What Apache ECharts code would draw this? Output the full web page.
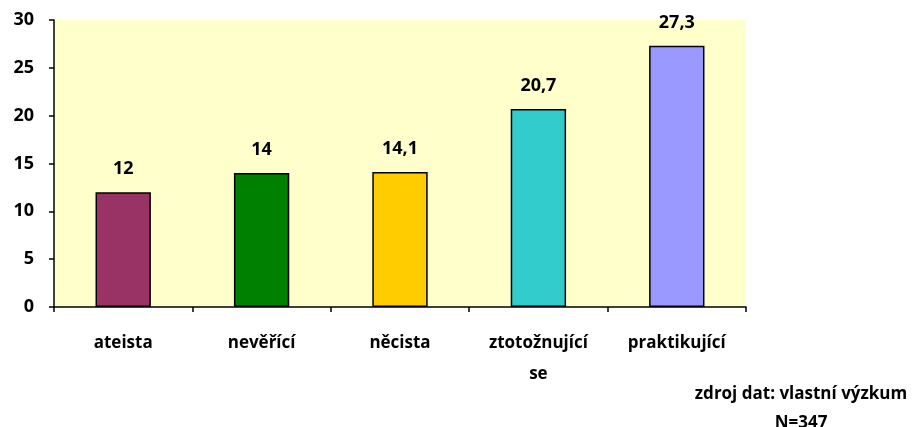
<!DOCTYPE html>
<html>
<head>
<meta charset="utf-8">
<script src="https://cdn.jsdelivr.net/npm/echarts@6/dist/echarts.min.js"></script>
<style>
  html, body { margin: 0; padding: 0; background: #fff; }
  #chart { width: 916px; height: 427px; }
</style>
</head>
<body>
<div id="chart"></div>
<script>
const categories = ['ateista', 'nevěřící', 'něcista', 'ztotožnující\nse', 'praktikující'];
const values = [12, 14, 14.1, 20.7, 27.3];
const barColors = ['#993366', '#008000', '#FFCC00', '#33CCCC', '#9999FF'];
const yTicks = [0, 5, 10, 15, 20, 25, 30];

const font = '"Open Sans", Lato, sans-serif';
const chart = echarts.init(document.getElementById('chart'));

chart.setOption({
  animation: false,
  grid: {
    left: 54, right: 170, top: 20, bottom: 120,
    show: true, backgroundColor: '#FFFFCC', borderWidth: 0
  },
  xAxis: {
    type: 'category',
    data: categories,
    axisLine: { lineStyle: { color: '#000', width: 1.5 } },
    axisTick: { show: true, length: 5, lineStyle: { color: '#000', width: 1.5 } },
    axisLabel: {
      color: '#000', fontFamily: font, fontWeight: 'bold', fontSize: 17,
      margin: 21, lineHeight: 31
    }
  },
  yAxis: {
    type: 'value',
    min: yTicks[0], max: yTicks[yTicks.length - 1], interval: 5,
    splitLine: { show: false },
    axisLine: { show: true, lineStyle: { color: '#000', width: 1.5 } },
    axisTick: { show: true, length: 5, lineStyle: { color: '#000', width: 1.5 } },
    axisLabel: {
      color: '#000', fontFamily: font, fontWeight: 'bold', fontSize: 18, margin: 20
    }
  },
  series: [{
    type: 'bar',
    barWidth: '40%',
    data: values.map((v, i) => ({
      value: v,
      itemStyle: { color: barColors[i], borderColor: '#000', borderWidth: 1.5 }
    })),
    label: {
      show: true, position: 'top', distance: 14,
      color: '#000', fontFamily: font, fontWeight: 'bold', fontSize: 18,
      formatter: p => String(p.value).replace('.', ',')
    }
  }],
  graphic: [
    {
      type: 'text', x: 801, y: 380,
      style: {
        text: 'zdroj dat: vlastní výzkum\nN=347', align: 'center',
        fontFamily: font, fontWeight: 'bold', fontSize: 17, lineHeight: 29, fill: '#000'
      }
    }
  ]
});
</script>
</body>
</html>
